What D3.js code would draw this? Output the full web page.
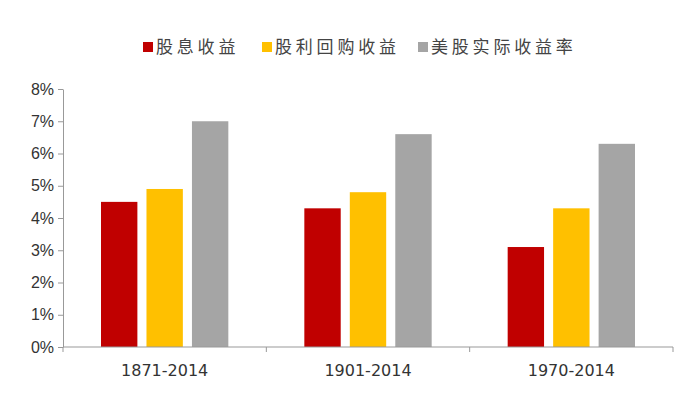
<!DOCTYPE html>
<html>
<head>
<meta charset="utf-8">
<script src="https://cdn.jsdelivr.net/npm/d3@7"></script>
<style>
  body { margin: 0; background: #fff; }
  svg { display: block; }
</style>
</head>
<body>
<svg id="chart"></svg>
<script>
const periods = ['1871-2014', '1901-2014', '1970-2014']
const seriesNames = ['股息收益', '股利回购收益', '美股实际收益率']
const dividend = [4.5, 4.3, 3.1]
const buyback = [4.9, 4.8, 4.3]
const realReturn = [7.0, 6.6, 6.3]
const yTicks = [0, 1, 2, 3, 4, 5, 6, 7, 8]
const colors = ['#C00000', '#FFC000', '#A5A5A5']

const W = 700
const H = 398
const margin = { top: 89, right: 27, bottom: 51, left: 63 }
const _w = W - margin.left - margin.right
const _h = H - margin.top - margin.bottom

const svg = d3.select('#chart').attr('width', W).attr('height', H)
const g = svg.append('g').attr('transform', `translate(${margin.left},${margin.top})`)

const x0 = d3.scaleBand().domain(periods).range([0, _w]).paddingInner(0).paddingOuter(0)
const x1 = d3.scaleBand().domain(seriesNames).range([38, x0.bandwidth() - 38]).paddingInner(0.2).paddingOuter(0)
const y = d3.scaleLinear().domain([0, 8]).range([_h, 0])

const rows = periods.map((p, i) => ({ period: p, values: [dividend[i], buyback[i], realReturn[i]] }))

// bars
g.selectAll('.grp')
  .data(rows)
  .join('g')
  .attr('class', 'grp')
  .attr('transform', (d) => `translate(${x0(d.period)},0)`)
  .selectAll('rect')
  .data((d) => d.values.map((v, k) => ({ key: seriesNames[k], value: v, k })))
  .join('rect')
  .attr('x', (d) => x1(d.key))
  .attr('width', x1.bandwidth())
  .attr('y', (d) => y(d.value))
  .attr('height', (d) => _h - y(d.value))
  .attr('fill', (d) => colors[d.k])

// y axis
const yAxis = g.append('g')
  .call(d3.axisLeft(y).tickValues(yTicks).tickFormat((d) => d + '%').tickSize(5).tickSizeOuter(0))
yAxis.select('.domain').attr('stroke', '#999')
yAxis.selectAll('.tick line').attr('stroke', '#999')
yAxis.selectAll('.tick text')
  .attr('x', -9)
  .attr('fill', '#333')
  .style('font-family', '"Liberation Sans", Arial, sans-serif')
  .style('font-size', '16px')

// x axis
const xAxisG = g.append('g').attr('transform', `translate(0,${_h})`)
xAxisG.append('line').attr('x1', 0).attr('x2', _w).attr('stroke', '#999')
const bounds = d3.range(periods.length + 1).map((i) => i * x0.step())
xAxisG.selectAll('.xt')
  .data(bounds)
  .join('line')
  .attr('class', 'xt')
  .attr('x1', (d) => d).attr('x2', (d) => d)
  .attr('y1', 0).attr('y2', 5)
  .attr('stroke', '#999')
xAxisG.selectAll('.xl')
  .data(periods)
  .join('text')
  .attr('class', 'xl')
  .attr('x', (d) => x0(d) + x0.bandwidth() / 2)
  .attr('y', 29)
  .attr('text-anchor', 'middle')
  .attr('fill', '#333')
  .style('font-family', '"DejaVu Sans", sans-serif')
  .style('font-size', '16px')
  .text((d) => d)

// legend
const legendX = [143, 262, 418]
const legend = svg.append('g')
  .selectAll('g')
  .data(seriesNames)
  .join('g')
  .attr('transform', (d, i) => `translate(${legendX[i]},41)`)
legend.append('rect').attr('width', 10).attr('height', 10).attr('y', 1).attr('fill', (d, i) => colors[i])
legend.append('text')
  .attr('x', 13)
  .attr('y', 12)
  .attr('fill', '#444')
  .style('font-family', '"Noto Sans CJK SC", sans-serif')
  .style('font-size', '17px')
  .style('letter-spacing', '3.8px')
  .text((d) => d)
</script>
</body>
</html>
